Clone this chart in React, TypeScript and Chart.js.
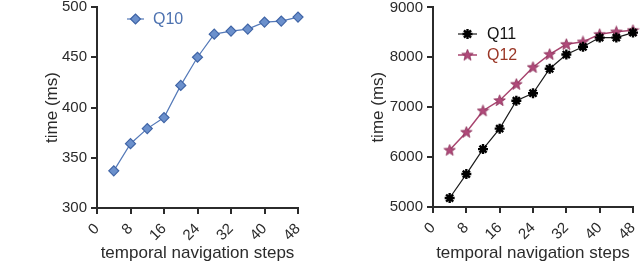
import React, { useEffect, useRef } from 'react';
import { Chart, registerables } from 'chart.js';
import { drawPoint } from 'chart.js/helpers';

Chart.register(...registerables);

const steps = [4, 8, 12, 16, 20, 24, 28, 32, 36, 40, 44, 48];
const q10 = [337, 364, 379, 390, 422, 450, 473, 476, 478, 485, 486, 490];
const q11 = [5180, 5660, 6160, 6570, 7130, 7280, 7770, 8055, 8210, 8395, 8395, 8495];
const q12 = [6140, 6500, 6930, 7135, 7460, 7800, 8060, 8260, 8310, 8460, 8510, 8540];
const xTicks = [0, 8, 16, 24, 32, 40, 48];
const leftYTicks = [300, 350, 400, 450, 500];
const rightYTicks = [5000, 6000, 7000, 8000, 9000];

const FONT = '"Liberation Sans", Arial, sans-serif';
const AXIS = '#2b2b2b';

function makeStar(fill: string, stroke: string): HTMLCanvasElement {
  const c = document.createElement('canvas');
  c.width = 13;
  c.height = 13;
  const ctx = c.getContext('2d')!;
  const cx = 6.5, cy = 6.8, R = 6, r = 2.5;
  ctx.beginPath();
  for (let i = 0; i < 10; i++) {
    const a = -Math.PI / 2 + (i * Math.PI) / 5;
    const rad = i % 2 === 0 ? R : r;
    const x = cx + rad * Math.cos(a);
    const y = cy + rad * Math.sin(a);
    if (i === 0) ctx.moveTo(x, y);
    else ctx.lineTo(x, y);
  }
  ctx.closePath();
  ctx.fillStyle = fill;
  ctx.fill();
  ctx.strokeStyle = stroke;
  ctx.lineWidth = 0.8;
  ctx.stroke();
  return c;
}

type LegendItem = { index: number; x1: number; x2: number; y: number; tx: number; text: string; color: string };

function legendPlugin(items: LegendItem[]) {
  return {
    id: 'customLegend',
    afterDraw(chart: any) {
      const ctx = chart.ctx;
      items.forEach((it) => {
        const ds = chart.data.datasets[it.index];
        ctx.save();
        ctx.strokeStyle = ds.borderColor;
        ctx.lineWidth = ds.borderWidth;
        ctx.beginPath();
        ctx.moveTo(it.x1, it.y);
        ctx.lineTo(it.x2, it.y);
        ctx.stroke();
        ctx.fillStyle = ds.pointBackgroundColor;
        ctx.strokeStyle = ds.pointBorderColor;
        ctx.lineWidth = ds.pointBorderWidth;
        drawPoint(ctx, { pointStyle: ds.pointStyle, radius: ds.pointRadius, borderWidth: ds.pointBorderWidth, rotation: 0 } as any, (it.x1 + it.x2) / 2, it.y);
        ctx.fillStyle = it.color;
        ctx.font = `16px ${FONT}`;
        ctx.textBaseline = 'middle';
        ctx.textAlign = 'left';
        ctx.fillText(it.text, it.tx, it.y + 1);
        ctx.restore();
      });
    },
  };
}

function scales(yTicks: number[], yW: number, xH: number) {
  const grid = { drawOnChartArea: false, drawTicks: true, tickLength: 6, color: AXIS, lineWidth: 2 };
  const border = { display: true, color: AXIS, width: 2 };
  const tickFont = { family: FONT, size: 15 };
  const titleFont = { family: FONT, size: 17 };
  return {
    x: {
      type: 'linear' as const,
      min: 0,
      max: 48,
      grid,
      border,
      ticks: { color: AXIS, font: tickFont, minRotation: 45, maxRotation: 45, padding: 6, callback: (v: any) => String(v) },
      title: { display: true, text: 'temporal navigation steps', color: AXIS, font: titleFont },
      afterBuildTicks: (s: any) => {
        s.ticks = xTicks.map((v) => ({ value: v }));
      },
      afterFit: (s: any) => {
        s.height = xH;
        s.paddingLeft = 0; s.paddingRight = 0; s.paddingTop = 0; s.paddingBottom = 0;
      },
    },
    y: {
      type: 'linear' as const,
      min: yTicks[0],
      max: yTicks[yTicks.length - 1],
      grid,
      border,
      ticks: { color: AXIS, font: tickFont, padding: 4, callback: (v: any) => String(v) },
      title: { display: true, text: 'time (ms)', color: AXIS, font: titleFont },
      afterBuildTicks: (s: any) => {
        s.ticks = yTicks.map((v) => ({ value: v }));
      },
      afterFit: (s: any) => {
        s.width = yW;
        s.paddingLeft = 0; s.paddingRight = 0; s.paddingTop = 0; s.paddingBottom = 0;
      },
    },
  };
}

function LeftChart() {
  const ref = useRef<HTMLCanvasElement>(null);
  useEffect(() => {
    const chart = new Chart(ref.current!, {
      type: 'line',
      data: {
        datasets: [
          {
            label: 'Q10',
            data: steps.map((x, i) => ({ x, y: q10[i] })),
            borderColor: '#5479b8',
            borderWidth: 1.2,
            pointStyle: 'rectRot',
            pointRadius: 5,
            pointBackgroundColor: '#6b90cc',
            pointBorderColor: '#3f64a6',
            pointBorderWidth: 1.2,
            clip: false as any,
          },
        ],
      },
      options: {
        animation: false,
        responsive: false,
        layout: { padding: { left: 38, right: 23, top: 7, bottom: 0 } },
        plugins: { legend: { display: false }, tooltip: { enabled: false } },
        scales: scales(leftYTicks, 59, 60) as any,
      },
      plugins: [legendPlugin([{ index: 0, x1: 127, x2: 144, y: 19, tx: 153, text: 'Q10', color: '#4d72b0' }])],
    });
    return () => chart.destroy();
  }, []);
  return <canvas ref={ref} width={321} height={268} />;
}

function RightChart() {
  const ref = useRef<HTMLCanvasElement>(null);
  useEffect(() => {
    const star = makeStar('#b04a7a', '#8a2f58');
    const chart = new Chart(ref.current!, {
      type: 'line',
      data: {
        datasets: [
          {
            label: 'Q11',
            data: steps.map((x, i) => ({ x, y: q11[i] })),
            borderColor: '#1a1a1a',
            borderWidth: 1.2,
            pointStyle: 'star',
            pointRadius: 5,
            pointBackgroundColor: '#000',
            pointBorderColor: '#000',
            pointBorderWidth: 2.4,
            clip: false as any,
          },
          {
            label: 'Q12',
            data: steps.map((x, i) => ({ x, y: q12[i] })),
            borderColor: '#a8456f',
            borderWidth: 1.5,
            pointStyle: star as any,
            pointRadius: 6,
            pointBackgroundColor: '#b04a7a',
            pointBorderColor: '#8a2f58',
            pointBorderWidth: 1,
            clip: false as any,
          },
        ],
      },
      options: {
        animation: false,
        responsive: false,
        layout: { padding: { left: 43, right: 9, top: 7, bottom: 0 } },
        plugins: { legend: { display: false }, tooltip: { enabled: false } },
        scales: scales(rightYTicks, 69, 61) as any,
      },
      plugins: [
        legendPlugin([
          { index: 0, x1: 137, x2: 156, y: 34, tx: 166, text: 'Q11', color: '#111' },
          { index: 1, x1: 137, x2: 156, y: 55, tx: 166, text: 'Q12', color: '#9a3626' },
        ]),
      ],
    });
    return () => chart.destroy();
  }, []);
  return <canvas ref={ref} width={321} height={268} />;
}

export default function App() {
  return (
    <div style={{ position: 'absolute', left: 0, top: 0, width: 642, height: 268, display: 'flex', background: '#fff' }}>
      <LeftChart />
      <RightChart />
    </div>
  );
}
